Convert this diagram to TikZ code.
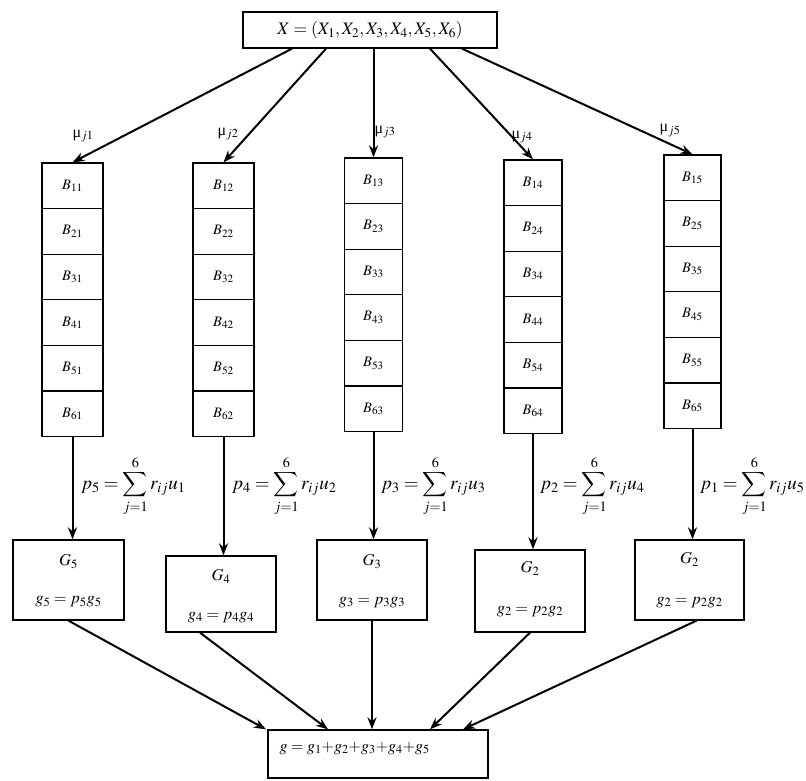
\documentclass[tikz,border=0pt]{standalone}
\usepackage{mathptmx}
\usepackage{exscale}
\usepackage[no-math]{fontspec}
\setmainfont{Liberation Serif}
\DeclareMathSizes{14.5}{14.5}{11.2}{9}
\DeclareMathSizes{16}{16}{12.2}{9.5}
\DeclareMathSizes{16.5}{16.5}{12.5}{10}
\DeclareMathSizes{17.5}{17.5}{13.2}{10.5}
\DeclareMathSizes{19}{19}{14.2}{11}
\usetikzlibrary{arrows.meta,calc}
\tikzset{
  boxline/.style={draw, line width=1.3pt},
  topbox/.style={boxline, minimum width=254pt, minimum height=36pt, inner sep=0pt, font=\fontsize{17.5}{20}\selectfont},
  cell/.style={boxline, minimum height=45.6pt, inner sep=0pt, font=\fontsize{14.5}{17}\selectfont},
  gbox/.style={boxline, inner sep=0pt},
  gtext/.style={inner sep=0pt, font=\fontsize{16.5}{19}\selectfont},
  mulab/.style={inner sep=0pt, font=\fontsize{16}{18}\selectfont},
  formula/.style={inner sep=0pt, anchor=west, font=\fontsize{19}{21}\selectfont},
  arr/.style={line width=2pt, -{Stealth[length=12pt,width=9pt]}},
}
\begin{document}
\begin{tikzpicture}[x=1pt,y=-1pt]
\useasboundingbox[fill=white] (0,0) rectangle (806,780);

% top box
\node[topbox] (X) at (370,30) {$X = (X_1, X_2, X_3, X_4, X_5, X_6)$};

% columns
\foreach \c/\cx/\tp/\w in {1/72.5/163/61, 2/223.5/163/61, 3/373.5/158/58, 4/533/160/58, 5/692.5/155/57}{
  \foreach \r in {1,...,6}{
    \node[cell, minimum width=\w pt] (B\r\c) at (\cx,{\tp+(\r-0.5)*45.6}) {$B_{\r\c}$};
  }
}

% arrows from X to columns
\draw[arr] ([xshift=-78pt]X.south) -- (B11.north);
\draw[arr] ([xshift=-44pt]X.south) -- (B12.north);
\draw[arr] (B13.north |- X.south) -- (B13.north);
\draw[arr] ([xshift=60pt]X.south) -- (B14.north);
\draw[arr] ([xshift=92pt]X.south) -- (B15.north);

% mu labels
\node[mulab] (m1) at (83,136) {μ$_{j1}$};
\node[mulab] (m2) at (228,134) {μ$_{j2}$};
\node[mulab] (m3) at (385,132) {μ$_{j3}$};
\node[mulab] (m4) at (522,137) {μ$_{j4}$};
\node[mulab] (m5) at (670,131) {μ$_{j5}$};

% G boxes
\node[gbox, minimum width=111pt, minimum height=80pt] (G5) at (68.5,580) {};
\node[gbox, minimum width=110pt, minimum height=76pt] (G4) at (221,594) {};
\node[gbox, minimum width=110pt, minimum height=80pt] (G3) at (372,580) {};
\node[gbox, minimum width=110pt, minimum height=82pt] (G2a) at (530,591) {};
\node[gbox, minimum width=109pt, minimum height=80pt] (G2b) at (689.5,580) {};

\node[gtext] (G5l) at ($(G5.north)+(0,22)$) {$G_5$};
\node[gtext] (G5f) at ($(G5.north)+(0,62)$) {$g_5 = p_5g_5$};
\node[gtext] (G4l) at ($(G4.north)+(0,21)$) {$G_4$};
\node[gtext] (G4f) at ($(G4.north)+(0,62)$) {$g_4 = p_4g_4$};
\node[gtext] (G3l) at ($(G3.north)+(0,22)$) {$G_3$};
\node[gtext] (G3f) at ($(G3.north)+(0,63)$) {$g_3 = p_3g_3$};
\node[gtext] (G2al) at ($(G2a.north)+(0,19)$) {$G_2$};
\node[gtext] (G2af) at ($(G2a.north)+(0,62)$) {$g_2 = p_2g_2$};
\node[gtext] (G2bl) at ($(G2b.north)+(0,20)$) {$G_2$};
\node[gtext] (G2bf) at ($(G2b.north)+(0,63)$) {$g_2 = p_2g_2$};

% vertical arrows
\draw[arr] (B61.south) -- (B61.south |- G5.north);
\draw[arr] (B62.south) -- (B62.south |- G4.north);
\draw[arr] (B63.south) -- (B63.south |- G3.north);
\draw[arr] (B64.south) -- (B64.south |- G2a.north);
\draw[arr] (B65.south) -- (B65.south |- G2b.north);

% formulas
\node[formula] (P5) at (81,486) {$p_5 = \displaystyle\sum_{j=1}^{6} r_{ij}u_1$};
\node[formula] (P4) at (232,486) {$p_4 = \displaystyle\sum_{j=1}^{6} r_{ij}u_2$};
\node[formula] (P3) at (381,486) {$p_3 = \displaystyle\sum_{j=1}^{6} r_{ij}u_3$};
\node[formula] (P2) at (540,486) {$p_2 = \displaystyle\sum_{j=1}^{6} r_{ij}u_4$};
\node[formula] (P1) at (700,486) {$p_1 = \displaystyle\sum_{j=1}^{6} r_{ij}u_5$};

% bottom box
\node[boxline, minimum width=220pt, minimum height=48pt, inner sep=0pt] (S) at (378,754) {};
\node[inner sep=0pt, anchor=west, font=\fontsize{16}{18}\selectfont] (St) at ($(S.west)+(12,-6)$) {$g = g_1{+}g_2{+}g_3{+}g_4{+}g_5$};

% arrows into bottom box
\draw[arr] (G5.south) -- ([xshift=-112pt]S.north);
\draw[arr] ([xshift=-21pt]G4.south) -- ([xshift=-50pt]S.north);
\draw[arr] (G3.south) -- (G3.south |- S.north);
\draw[arr] (G2a.south) -- ([xshift=52pt]S.north);
\draw[arr] ([xshift=7pt]G2b.south) -- ([xshift=85pt]S.north);
\end{tikzpicture}
\end{document}
